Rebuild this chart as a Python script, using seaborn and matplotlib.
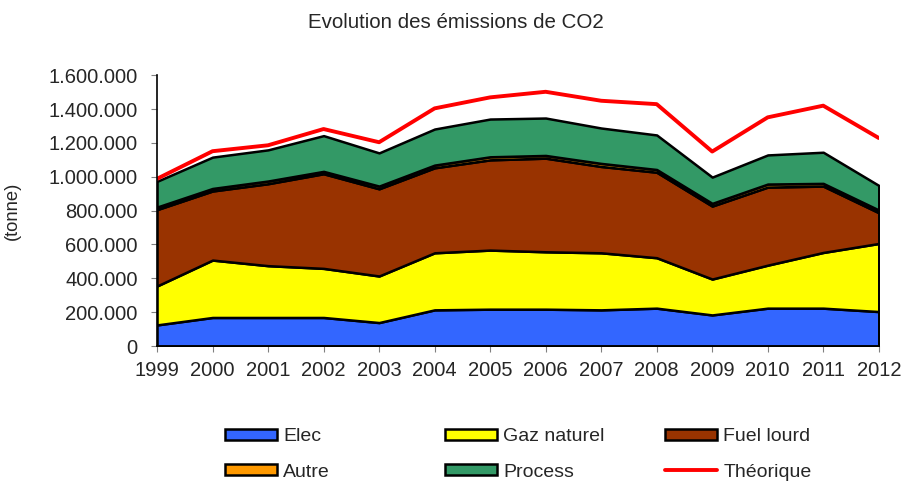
import matplotlib
matplotlib.use("Agg")
import matplotlib.pyplot as plt
from matplotlib.patches import Patch
from matplotlib.lines import Line2D
from matplotlib.ticker import FuncFormatter
import seaborn as sns
import pandas as pd

# data (tonnes)
years = [1999, 2000, 2001, 2002, 2003, 2004, 2005, 2006, 2007, 2008, 2009, 2010, 2011, 2012]
elec = [125000, 169000, 169000, 169000, 139000, 214000, 218000, 218000, 214000, 224000, 184000, 224000, 224000, 204000]
gaz = [230000, 339000, 306000, 290000, 275000, 337000, 349000, 339000, 337000, 298000, 212000, 254000, 329000, 402000]
fuel = [451000, 408000, 484000, 559000, 515000, 502000, 533000, 553000, 510000, 505000, 431000, 461000, 392000, 182000]
autre = [15000, 15000, 16000, 14000, 16000, 16000, 18000, 16000, 18000, 16000, 16000, 18000, 16000, 16000]
process = [152000, 185000, 184000, 211000, 196000, 213000, 223000, 221000, 209000, 204000, 155000, 172000, 184000, 145000]
theorique = [988000, 1151000, 1186000, 1282000, 1204000, 1404000, 1469000, 1502000, 1449000, 1429000, 1149000, 1351000, 1420000, 1229000]

labels = ["Elec", "Gaz naturel", "Fuel lourd", "Autre", "Process"]
colors = ["#3366ff", "#ffff00", "#993300", "#ff9900", "#339966"]

sns.set_style("white")
plt.rcParams["font.family"] = ["Liberation Sans", "DejaVu Sans"]

fig = plt.figure(figsize=(9.05, 4.82), dpi=100)
ax = fig.add_axes([0.1735, 0.282, 0.7975, 0.562])

ax.stackplot(years, elec, gaz, fuel, autre, process, colors=colors,
             edgecolor="black", linewidth=1.8)

df = pd.DataFrame({"annee": years, "theorique": theorique})
sns.lineplot(data=df, x="annee", y="theorique", color="#ff0000", linewidth=2.8, ax=ax)

ax.set_xlim(1999, 2012)
ax.set_ylim(0, 1600000)
ax.set_xticks(years)
ax.set_yticks(range(0, 1600001, 200000))
ax.yaxis.set_major_formatter(FuncFormatter(lambda v, p: f"{v:,.0f}".replace(",", ".")))
ax.set_xlabel("")
ax.set_ylabel("(tonne)", fontsize=13.2)
ax.yaxis.set_label_coords(-0.188, 0.5)
ax.tick_params(axis="both", which="major", direction="out", length=4, width=0.8,
               color="#808080", labelsize=14.5, pad=10, left=True, bottom=True)
ax.tick_params(axis="x", pad=7)
for s in ["top", "right"]:
    ax.spines[s].set_visible(False)
for s in ["left", "bottom"]:
    ax.spines[s].set_color("black")
    ax.spines[s].set_linewidth(1.2)

fig.text(0.504, 1 - 22 / 482, "Evolution des émissions de CO2", ha="center", va="center", fontsize=14.8)

# legend: three columns placed separately
def patch(c):
    return Patch(facecolor=c, edgecolor="black", linewidth=1.8)

cols = [
    ([patch(colors[0]), patch(colors[3])], ["Elec", "Autre"], 0.2486),
    ([patch(colors[1]), patch(colors[4])], ["Gaz naturel", "Process"], 0.4917),
    ([patch(colors[2]), Line2D([0], [0], color="#ff0000", linewidth=2.8)], ["Fuel lourd", "Théorique"], 0.7348),
]
for handles, labs, x in cols:
    fig.legend(handles, labs, loc="center left", bbox_to_anchor=(x, 1 - 454.5 / 482),
               frameon=False, fontsize=14, handlelength=2.7, handleheight=0.5,
               handletextpad=0.3, labelspacing=0.93, borderaxespad=0, borderpad=0)

fig.savefig("out.png", dpi=100)
